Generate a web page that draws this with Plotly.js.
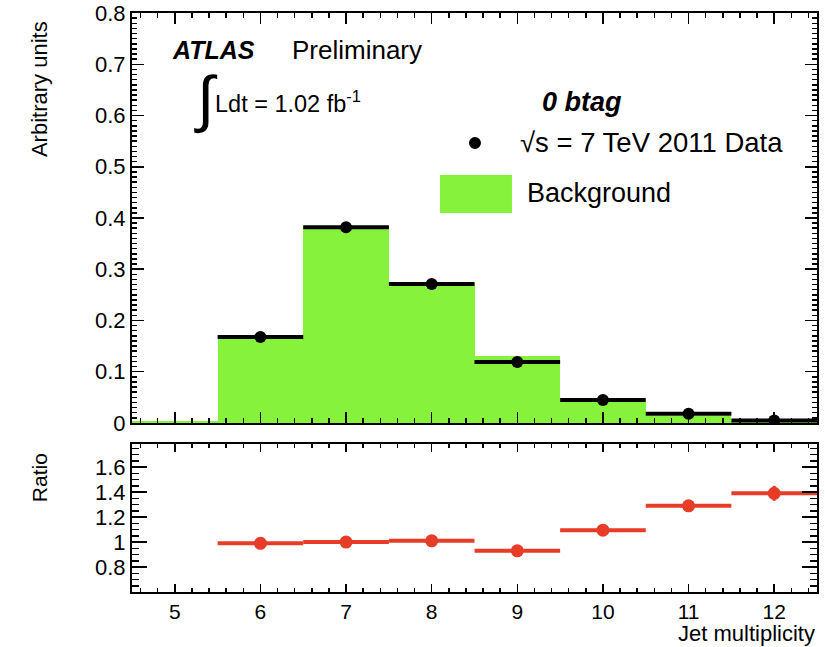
<!DOCTYPE html>
<html>
<head>
<meta charset="utf-8">
<script src="https://cdn.plot.ly/plotly-3.0.1.min.js"></script>
<style>
html,body{margin:0;padding:0;background:#fff;}
#chart{width:825px;height:647px;}
</style>
</head>
<body>
<div id="chart"></div>
<script>
// ---- data ----
const bkgBins   = [5, 6, 7, 8, 9, 10, 11, 12];
const bkgValues = [0.004, 0.170, 0.384, 0.273, 0.131, 0.041, 0.014, 0.0036];

const dataBins   = [6, 7, 8, 9, 10, 11, 12];
const dataValues = [0.168, 0.382, 0.271, 0.119, 0.045, 0.018, 0.005];
const dataErrors = [0.002, 0.003, 0.002, 0.0015, 0.001, 0.0007, 0.0005];

const ratioValues = [0.99, 1.00, 1.01, 0.93, 1.095, 1.29, 1.39];
const ratioErrors = [0.01, 0.01, 0.01, 0.015, 0.02, 0.03, 0.06];

const xTickVals  = [5, 6, 7, 8, 9, 10, 11, 12];
const xTickText  = ['5', '6', '7', '8', '9', '10', '11', '12'];
const yTickVals  = [0, 0.1, 0.2, 0.3, 0.4, 0.5, 0.6, 0.7, 0.8];
const yTickText  = ['0', '0.1', '0.2', '0.3', '0.4', '0.5', '0.6', '0.7', '0.8'];
const rTickVals  = [0.8, 1.0, 1.2, 1.4, 1.6];
const rTickText  = ['0.8', '1', '1.2', '1.4', '1.6'];

// ---- styles ----
const FONT = 'Liberation Sans, Arial, Helvetica, sans-serif';
const GREEN = '#87f23c';
const RED = '#e63c28';

const traces = [
  {
    type: 'bar', x: bkgBins, y: bkgValues, width: 1,
    marker: {color: GREEN, line: {width: 0}},
    xaxis: 'x', yaxis: 'y', hoverinfo: 'skip', showlegend: false
  },
  {
    type: 'scatter', mode: 'markers', x: dataBins, y: dataValues,
    marker: {color: '#000', size: 12},
    error_x: {type: 'constant', value: 0.5, width: 0, thickness: 4, color: '#000'},
    error_y: {type: 'data', array: dataErrors, width: 0, thickness: 2, color: '#000'},
    xaxis: 'x', yaxis: 'y', showlegend: false
  },
  {
    type: 'scatter', mode: 'markers', x: dataBins, y: ratioValues,
    marker: {color: RED, size: 13},
    error_x: {type: 'constant', value: 0.5, width: 0, thickness: 4, color: RED},
    error_y: {type: 'data', array: ratioErrors, width: 0, thickness: 3, color: RED},
    xaxis: 'x2', yaxis: 'y2', showlegend: false
  }
];

const axisCommon = {
  showline: true, linecolor: '#000', linewidth: 2, mirror: 'ticks',
  ticks: 'inside', tickcolor: '#000', tickwidth: 1.5,
  showgrid: false, zeroline: false, fixedrange: true,
  tickfont: {family: FONT, size: 22, color: '#000'}
};

function txt(text, x, y, size, extra) {
  return Object.assign({
    text: text, xref: 'paper', yref: 'paper', x: x, y: y,
    xanchor: 'left', yanchor: 'middle', showarrow: false,
    font: {family: FONT, size: size, color: '#000'}
  }, extra || {});
}

const layout = {
  width: 825, height: 647,
  margin: {l: 132, r: 8, t: 13, b: 55},
  paper_bgcolor: '#fff', plot_bgcolor: '#fff',
  showlegend: false,
  bargap: 0,
  font: {family: FONT, color: '#000'},
  xaxis: Object.assign({}, axisCommon, {
    domain: [0, 1], anchor: 'y', range: [4.5, 12.5],
    tickvals: xTickVals, ticktext: xTickText, showticklabels: false, ticklen: 11,
    minor: {dtick: 0.2, tick0: 0, ticks: 'inside', ticklen: 5, tickcolor: '#000', tickwidth: 1.5}
  }),
  yaxis: Object.assign({}, axisCommon, {
    domain: [0.2919, 1], anchor: 'x', range: [0, 0.8],
    tickvals: yTickVals, ticktext: yTickText, ticklen: 12,
    minor: {dtick: 0.01, tick0: 0, ticks: 'inside', ticklen: 5, tickcolor: '#000', tickwidth: 1.5}
  }),
  xaxis2: Object.assign({}, axisCommon, {
    domain: [0, 1], anchor: 'y2', range: [4.5, 12.5],
    tickvals: xTickVals, ticktext: xTickText, ticklen: 8,
    tickfont: {family: FONT, size: 21, color: '#000'},
    minor: {dtick: 0.2, tick0: 0, ticks: 'inside', ticklen: 4, tickcolor: '#000', tickwidth: 1.5}
  }),
  yaxis2: Object.assign({}, axisCommon, {
    domain: [0, 0.2556], anchor: 'x2', range: [0.6, 1.785],
    tickvals: rTickVals, ticktext: rTickText, ticklen: 15,
    minor: {dtick: 0.05, tick0: 0, ticks: 'inside', ticklen: 7, tickcolor: '#000', tickwidth: 1.5}
  }),
  annotations: [
    txt('Arbitrary units', -0.134, 0.869, 22, {textangle: -90, xanchor: 'center'}),
    txt('Ratio', -0.134, 0.197, 21, {textangle: -90, xanchor: 'center'}),
    txt('Jet multiplicity', 1, -0.0725, 22, {xanchor: 'right'}),
    txt('<b><i>ATLAS</i></b>', 0.0555, 0.936, 25),
    txt('Preliminary', 0.2307, 0.936, 26),
    txt('∫', 0.088, 0.852, 62),
    txt('Ldt = 1.02 fb<sup>-1</sup>', 0.118, 0.846, 23.5),
    txt('<b><i>0 btag</i></b>', 0.5956, 0.846, 27),
    txt('√s = 7 TeV 2011 Data', 0.5635, 0.7755, 27.5),
    txt('Background', 0.5737, 0.689, 27)
  ],
  shapes: [
    {type: 'circle', xref: 'paper', yref: 'paper', xsizemode: 'pixel', ysizemode: 'pixel',
     xanchor: 0.5007, yanchor: 0.7755, x0: -6, x1: 6, y0: -6, y1: 6,
     fillcolor: '#000', line: {width: 0}},
    {type: 'rect', xref: 'paper', yref: 'paper',
     x0: 0.4496, x1: 0.5547, y0: 0.6546, y1: 0.7202,
     fillcolor: GREEN, line: {width: 0}}
  ]
};

Plotly.newPlot('chart', traces, layout, {staticPlot: true, displayModeBar: false});
</script>
</body>
</html>
